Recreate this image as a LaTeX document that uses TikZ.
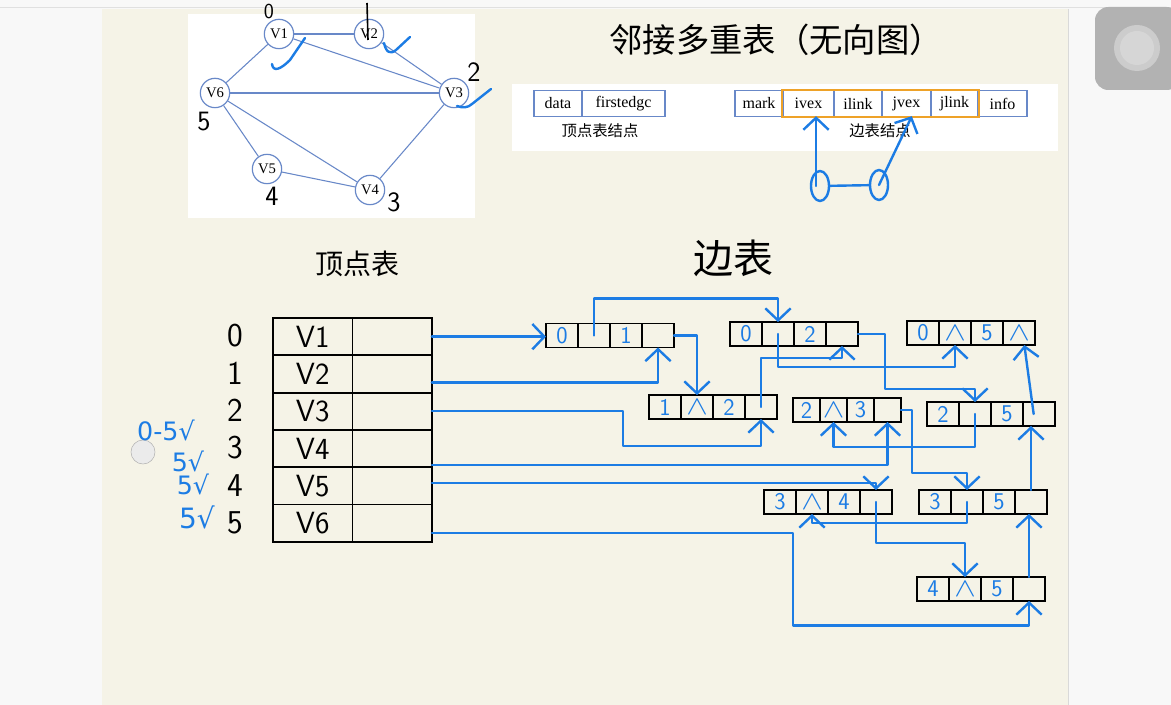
\documentclass[tikz,border=0pt]{standalone}
\usepackage{fontspec}
\newfontfamily\cjk{Noto Sans CJK SC}
\newfontfamily\printed{Liberation Serif}
\newfontfamily\symb{DejaVu Sans}
\usetikzlibrary{positioning,arrows.meta,shapes.geometric,fit}

\definecolor{paper}{RGB}{245,243,231}
\definecolor{pagegray}{RGB}{248,248,248}
\definecolor{pen}{RGB}{28,124,228}
\definecolor{ppt}{RGB}{104,136,200}
\definecolor{hilite}{RGB}{238,162,40}

\tikzset{
  cell/.style={draw, line width=1.4pt, minimum height=18pt, inner sep=0pt,
    outer sep=0pt, text=pen, font=\sffamily\fontsize{18}{18}\selectfont},
  vcell/.style={draw, line width=1.4pt, minimum width=59.6pt, minimum height=28pt,
    inner sep=0pt, outer sep=0pt, font=\sffamily\fontsize{23}{23}\selectfont},
  fcell/.style={draw=ppt, line width=0.9pt, minimum height=19pt, inner sep=0pt,
    outer sep=0pt, font=\printed\fontsize{12}{12}\selectfont},
  gnode/.style={circle, draw=ppt, line width=0.9pt, fill=white, minimum size=22pt,
    inner sep=0pt, font=\printed\fontsize{11}{11}\selectfont},
  gedge/.style={draw=ppt, line width=0.8pt},
  hand/.style={font=\sffamily\fontsize{21}{21}\selectfont},
  bluehand/.style={text=pen, font=\symb\fontsize{19}{19}\selectfont},
  ink/.style={draw=pen, line width=1.8pt, line cap=round, line join=round},
  ptr/.style={ink, -{Straight Barb[length=9pt,width=19pt]}},
}

% one node of the edge table: name, left x, middle y, cell width (px), four fields
\newcommand{\enode}[8]{%
  \node[cell, minimum width=#4*0.75pt, anchor=west] (#1a) at (#2,#3) {#5};
  \node[cell, minimum width=#4*0.75pt, right=0pt of #1a] (#1b) {#6};
  \node[cell, minimum width=#4*0.75pt, right=0pt of #1b] (#1c) {#7};
  \node[cell, minimum width=#4*0.75pt, right=0pt of #1c] (#1d) {#8};
}
\newcommand{\emptyptr}{\scalebox{1.4}[1.15]{$\wedge$}}

\begin{document}
\begin{tikzpicture}[x=0.75pt,y=-0.75pt]
\useasboundingbox (0,0) rectangle (1171,705);

% ===== Page =====
\fill[pagegray] (0,0) rectangle (1171,705);
\fill[paper] (102,9) rectangle (1068,705);
\draw[black!12] (0,7) -- (1171,7);
\draw[black!15] (1068,9) -- (1068,705);
\fill[black!30, rounded corners=10pt] (1095,7) rectangle (1180,90);
\fill[black!20] (1137,48) circle (23);
\fill[black!16] (1137,48) circle (17);
\filldraw[fill=black!8, draw=black!30] (143,452) circle (12);

% ===== Graph =====
\fill[white] (188,14) rectangle (475,218);
\node[gnode] (g1) at (279,34) {V1};
\node[gnode] (g2) at (369,34) {V2};
\node[gnode] (g3) at (454,93) {V3};
\node[gnode] (g4) at (370,190) {V4};
\node[gnode] (g5) at (267,169) {V5};
\node[gnode] (g6) at (215,93) {V6};
\foreach \a/\b in {g1/g2,g1/g3,g2/g3,g6/g1,g6/g3,g6/g5,g6/g4,g5/g4,g3/g4}
  \draw[gedge] (\a) -- (\b);

% handwritten indices and ticks
\node[hand, font=\sffamily\fontsize{16}{16}\selectfont] (n0) at (269,12) {0};
\draw[line width=1.2pt] (367,3) -- (368,40);
\node[hand] (n2) at (474,72) {2};
\node[hand] (n5) at (204,122) {5};
\node[hand] (n4) at (272,196) {4};
\node[hand] (n3) at (394,202) {3};
\draw[ink] (272,64) .. controls (273,72) and (280,70) .. (290,60) -- (305,38);
\draw[ink] (384,43) .. controls (386,52) and (390,55) .. (396,50) -- (410,37);
\draw[ink] (457,106) .. controls (462,108) and (468,108) .. (472,104) -- (491,89);

% ===== Title and node formats =====
\node[font=\cjk\fontsize{25}{25}\selectfont] (title) at (776,40) {邻接多重表（无向图）};
\fill[white] (512,84) rectangle (1058,151);
\node[fcell, minimum width=36pt, anchor=west] (fdata) at (534,103.5) {data};
\node[fcell, minimum width=62.25pt, right=0pt of fdata] (ffirst) {firstedgc};
\node[fcell, minimum width=36pt, anchor=west] (fmark) at (735,103.5) {mark};
\node[fcell, minimum width=38.25pt, right=0pt of fmark] (fivex) {ivex};
\node[fcell, minimum width=36pt, right=0pt of fivex] (filink) {ilink};
\node[fcell, minimum width=36.75pt, right=0pt of filink] (fjvex) {jvex};
\node[fcell, minimum width=35.25pt, right=0pt of fjvex] (fjlink) {jlink};
\node[fcell, minimum width=36.75pt, right=0pt of fjlink] (finfo) {info};
\node[draw=hilite, line width=1.6pt, inner sep=0.8pt, fit=(fivex)(fjlink)] (hl) {};
\node[font=\cjk\fontsize{11.5}{11.5}\selectfont] (capv) at (600,131) {顶点表结点};
\node[font=\cjk\fontsize{11.5}{11.5}\selectfont] (cape) at (880,131) {边表结点};

\node[ellipse, ink, minimum width=13.5pt, minimum height=22.5pt] (ov1) at (820,186) {};
\node[ellipse, ink, minimum width=13.5pt, minimum height=22.5pt] (ov2) at (879,185) {};
\draw[ink] (ov1) -- (ov2);
\draw[ptr] ([xshift=-3pt]ov1.center) -- ([xshift=-3pt]ov1.center |- fivex.south);
\draw[ptr] (ov2.center) -- ([xshift=4pt]fjvex.south);

% ===== Vertex table =====
\node[font=\cjk\fontsize{21}{21}\selectfont] (vtitle) at (357,264) {顶点表};
\foreach \i/\lab in {1/V1,2/V2,3/V3,4/V4,5/V5,6/V6} {
  \node[vcell, anchor=north west] (va\i) at (273,{318+37.3*(\i-1)}) {\lab};
  \node[vcell, right=0pt of va\i] (vb\i) {};
}
\foreach \i in {0,...,5}
  \node[hand, font=\sffamily\fontsize{25}{25}\selectfont] (ix\i) at (235,{336+37.3*\i}) {\i};

\node[bluehand] (tk0) at (166,430) {0-5√};
\node[bluehand] (tk1) at (188,461) {5√};
\node[bluehand] (tk2) at (193,484) {5√};
\node[bluehand, font=\symb\fontsize{21}{21}\selectfont] (tk3) at (197,517) {5√};

% ===== Edge table =====
\node[font=\cjk\fontsize{30}{30}\selectfont] (etitle) at (733,258) {边表};
\enode{e1}{546}{335.5}{32}{0}{}{1}{}
\enode{e2}{730}{334}{32}{0}{}{2}{}
\enode{e3}{907}{333}{32}{0}{\emptyptr}{5}{\emptyptr}
\enode{e4}{649}{407}{32}{1}{\emptyptr}{2}{}
\enode{e5}{793}{410}{27}{2}{\emptyptr}{3}{}
\enode{e6}{927}{414}{32}{2}{}{5}{}
\enode{e7}{764}{502}{32}{3}{\emptyptr}{4}{}
\enode{e8}{919}{502}{32}{3}{}{5}{}
\enode{e9}{917}{589}{32}{4}{\emptyptr}{5}{}

% firstedge pointers
\draw[ptr] (vb1.east) -- (vb1.east -| e1a.west);
\draw[ptr] ([yshift=-6.3pt]vb2.east) -| (e1d.south);
\draw[ptr] (vb3.east) -- ++(191,0) -- ++(0,35) -| (e4d.south);
\draw[ptr] ([yshift=-12.4pt]vb4.east) -| (e5d.south);
\draw[ptr] ([yshift=2pt]vb5.east) -| (e7d.north);
\draw[ptr] ([yshift=-7.6pt]vb6.east) -- ++(361,0) -- ++(0,92) -| (e9d.south);

% ilink / jlink pointers
\draw[ptr] (e1b.center) -- ++(0,-37) -| (e2b.north);
\draw[ptr] (e1d.east) -- ++(19,0) -| (e4b.north);
\draw[ptr] (e2b.center) -- ++(0,33) -| (e3b.south);
\draw[ptr] (e2d.east) -- ++(27,0) -- ++(0,55) -| (e6b.north);
\draw[ptr] (e4d.center) -- ++(0,-49) -| (e2d.south);
\draw[ptr] (e6b.center) -- ++(0,33) -| (e5b.south);
\draw[ptr] (e5d.east) -- ++(11,0) -- ++(0,63) -| (e8b.north);
\draw[ptr] ([xshift=-4pt]e6d.center) -- ([xshift=4pt]e3d.south);
\draw[ptr] (e8d.north) -- (e8d.north |- e6d.south);
\draw[ptr] (e9d.north) -- (e9d.north |- e8d.south);
\draw[ptr] (e8b.center) -- ++(0,21) -| (e7b.south);
\draw[ptr] (e7d.center) -- ++(0,41) -| (e9b.north);

\end{tikzpicture}
\end{document}
